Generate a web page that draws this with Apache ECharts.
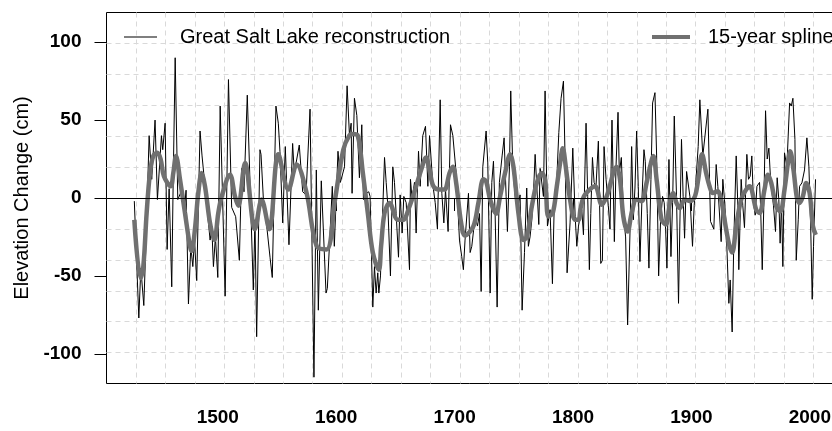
<!DOCTYPE html>
<html>
<head>
<meta charset="utf-8">
<script src="https://cdn.jsdelivr.net/npm/echarts@6/dist/echarts.min.js"></script>
<style>
html, body { margin: 0; padding: 0; background: #fff; }
#main { width: 832px; height: 431px; }
</style>
</head>
<body>
<div id="main"></div>
<script>
// annual reconstruction as [year, cm]
var reconstruction = [
  [1429.5, -2], [1433.3, -77], [1435, -45], [1437.5, -69], [1439.4, -27], [1442, 40], [1444.2, 12], [1447, 50],
  [1449, -1], [1452.4, 40], [1453.5, 31], [1455.5, 48], [1457.2, -33], [1458.9, 6], [1461.1, -57], [1462.3, 10],
  [1464, 90], [1466.2, -1], [1469, 4], [1471.5, -10], [1473.2, 5], [1475.2, -68], [1477.2, -31], [1478.9, -44],
  [1480.3, -27], [1482.2, -53], [1485, 43], [1486.7, 27], [1488.1, 16], [1493.5, -27], [1494.9, -18], [1496.3, -44],
  [1498, -25], [1500, -51], [1502, 59], [1506.2, -63], [1509, 76],
  [1511.7, -6], [1515.1, -12], [1518.2, -40], [1520.1, 19], [1522.1, 4], [1524.9, 66], [1530, -59], [1531.4, -14],
  [1532.8, -89], [1535.6, 31], [1536.5, 28], [1538.5, -1], [1541.3, -18], [1544.1, -38], [1546, -51], [1549.1, 59],
  [1551.1, 48], [1552.5, 30], [1554.8, -16], [1557, 33], [1560.1, -30], [1563.2, 35], [1564.6, 16], [1568.8, 34],
  [1571.7, 4], [1574.5, 2], [1577.9, 57], [1581.2, -115], [1583.2, 18], [1584.9, -72], [1587.4, 11], [1591.4, -61],
  [1592.5, -58], [1596.7, 7.5], [1598.4, -31], [1601.5, 30], [1603.5, 10],
  [1607, 20], [1609.2, 72], [1611.2, 40], [1612.6, 48], [1613.4, 3], [1615.4, 64], [1617.4, 53], [1619.6, 13],
  [1621.6, 47], [1623, -1], [1625.3, 3], [1627.5, 4], [1628.6, 1], [1630.9, -70], [1632.3, -44], [1633.7, -61],
  [1635.1, -48], [1636, -61], [1637.4, -50], [1640.8, 26], [1642.2, 10], [1643.6, -5], [1645.8, -50], [1647.8, 20],
  [1649.2, 10], [1650.6, -10], [1652.6, -38], [1654, 2], [1655.7, -22.5], [1657.1, 1], [1659.1, -3], [1661.9, -46],
  [1662.7, 12], [1664.1, -1], [1666.1, 10], [1667.5, -22.5], [1669.5, 30], [1670.9, 7.5], [1673.1, 40], [1675.4, 46],
  [1677.4, 7.5], [1678.8, 40], [1681.6, 8.6], [1683.6, -3], [1685.5, -20], [1687.8, 63], [1689.2, 3], [1690.9, -16],
  [1692.3, 5.4], [1694.5, -21.5], [1696.5, 47], [1698.5, 40], [1701.3, 16], [1704.1, -27],
  [1706, -37.6], [1707.4, -46], [1708.8, -27], [1711.7, 3], [1713.1, -35], [1714.5, -31], [1717.3, -12], [1719.3, -18],
  [1721, -10], [1722.4, -60], [1723.8, 20], [1726.6, 43], [1728, 22.5], [1730, -61], [1731.4, 10], [1732.8, 23.6],
  [1734.2, -10], [1735.9, -70], [1737.8, 10], [1740.1, 27], [1741.8, 38.6], [1743.5, 1], [1744.6, -21.5], [1746.3, 20],
  [1747.4, 68.7], [1749.1, 20], [1751.1, 1], [1753, -7.5], [1755.3, 2], [1757, -72], [1759, -35], [1760.9, 6.4],
  [1762.3, -31], [1763.7, -25], [1765.2, -14], [1766.6, 3], [1768, 28], [1769.4, 27], [1771.1, -17], [1772.2, 19],
  [1775, 1], [1776.4, 68.7], [1778.4, -18], [1780.6, -7.5], [1782.6, -55], [1784.3, 1], [1786.3, 12], [1788, 42],
  [1789.9, 64], [1791.9, 75], [1793.3, 25], [1795, -48], [1797.5, -16], [1799.8, 32], [1801.8, -12], [1803.2, -31],
  [1804.6, -18],
  [1806, -12], [1807.4, -7.5], [1808.8, -23.6], [1811, 48], [1812.4, 1], [1813.8, -46], [1815, -10], [1816.4, 26],
  [1817.8, 10], [1819.4, 7.5], [1821.4, 36.5], [1823.4, -42], [1824.8, -40], [1826.2, 33], [1827.9, 12], [1829.8, -5],
  [1831.2, -20], [1832.9, 50], [1834.9, -28], [1836.3, 20], [1838, 55], [1839.1, 16], [1840.8, 26], [1842.5, -10],
  [1844.4, -25], [1846.1, -81.5], [1848.1, -22.5], [1849.5, 33], [1850.9, -14], [1852.3, 6.4], [1853.7, 43], [1855.1, 7.5],
  [1856.5, -40.8], [1858.2, -1], [1859.9, 31], [1861, 23.6], [1862.7, -10], [1864.1, -45], [1865.8, 12], [1867.2, 61],
  [1868.3, 62], [1869.2, 67.6], [1870.6, 27], [1872.3, -50], [1873.9, -15], [1875.6, 1], [1877, -3], [1878.2, -20],
  [1879.3, -45], [1881, 24.7], [1882.7, -37.6], [1884.1, -3], [1885.5, 52.6], [1887.4, 1], [1889.1, -67.6], [1890.2, -18],
  [1891.6, 37.6], [1893, 1], [1894.2, -25.8], [1895.9, 17], [1897.5, 16], [1898.7, 1], [1900.9, -31], [1902.3, -5],
  [1903.7, 10], [1905.7, 33], [1907.1, 63],
  [1909.6, 27], [1913.9, 57], [1916.1, -15], [1918.9, -20], [1920.9, 21.5], [1922.3, 7.5], [1925.1, -28], [1926.5, 12],
  [1927.9, -1], [1929.3, -18], [1931.6, -67.6], [1932.7, -52.6], [1934.4, -86], [1935.8, -27], [1937.8, 27], [1939.2, -5],
  [1940, -46], [1942, 12], [1943.4, -5], [1944.8, -19], [1946.8, 28], [1948.2, 12], [1949.6, 14], [1951, 27],
  [1952.4, -3], [1953.9, -11], [1955.3, 7.5], [1957.5, 10], [1958.4, -5], [1959.8, -46], [1961.2, -3], [1962.6, 56],
  [1964, 25], [1965.4, 32], [1966.8, 12], [1969.3, -5], [1971, -21.5], [1972.4, 13], [1973.8, -1], [1974.9, -29],
  [1976.1, -3], [1977.2, -44], [1978.6, 29], [1980.6, 20], [1982.9, 61], [1984.3, 59], [1985.7, 64], [1987.4, 37.6],
  [1988.5, -40], [1990.2, -14], [1991.3, 7.5], [1993.3, 9.7], [1995.5, 18], [1997.5, 38.6], [1999.2, 20], [2000.6, -14],
  [2002, -65], [2003.1, -31], [2004.8, 12]
];

// 15-year spline
var spline15 = [
  [1429.5, -14], [1434.8, -51.5], [1437.1, -44], [1439.9, -9.7], [1442.7, 16], [1445.5, 27], [1448.9, 29], [1451.7, 25],
  [1454.5, 14], [1460.2, 7.5], [1462.4, 16], [1464.7, 27], [1468.1, 11.8], [1472.3, -9.7], [1476.5, -31], [1477.9, -34],
  [1480.7, -20], [1483.5, 3.2], [1486.4, 16], [1489.2, 7.5], [1493.4, -16], [1497.1, -27], [1500.4, -9.7], [1503.3, 1],
  [1510.3, 15], [1514.5, 1], [1517.3, -5], [1523, 22.5], [1531.4, -20], [1537, -1], [1543.5, -20], [1551.1, 28],
  [1559.6, 5.4], [1566.6, 21.5], [1575, 3.2], [1583.5, -31], [1591.9, -33], [1599, -1], [1606, 31], [1611, 40],
  [1614, 41], [1618.2, 40], [1622.5, 16], [1626.7, -9.7], [1630.9, -35], [1636, -46], [1637.9, -31], [1640.8, -9.7],
  [1645, -3.2], [1652, -14], [1656.2, -14], [1661.9, -5.4], [1667.5, 7.5], [1671.7, 18], [1675.9, 26], [1678.8, 18],
  [1682.1, 7.5], [1687.2, 5.4], [1691.4, 5.4], [1695.7, 16], [1698.5, 20], [1701.3, 9.7], [1705.5, -16], [1708.8, -24],
  [1715.9, -18], [1720.1, -3], [1724.3, 12], [1726.6, 10.7], [1730, -1], [1735, -10], [1738.4, 1], [1742.6, 16],
  [1746.9, 28], [1749.7, 20], [1753.9, -9.7], [1758.1, -27], [1761, -25], [1765.2, -5.4], [1769.4, 9.7], [1773.6, 16],
  [1776.4, 11.8], [1779.2, -11.8], [1782.9, -9.7], [1786.3, 7.5], [1789.1, 22.5], [1791.3, 32], [1794.2, 18], [1797.5, -1],
  [1801.8, -14], [1804.6, -14], [1806.5, -6], [1810, 2], [1818.6, 7.5], [1824.2, -4.3], [1828.4, 1], [1836.9, 20],
  [1839.7, 11.8], [1842.5, -12], [1846.1, -21.5], [1849.5, -9.7], [1853.7, -1], [1857.9, -2], [1862.1, 9.7], [1865, 20],
  [1867.8, 27], [1870.6, 11.8], [1874.8, -14], [1878.4, -17], [1881.8, -3.2], [1884.6, 3.2], [1887.4, -3.2], [1890.2, -6.4],
  [1894.4, -1], [1898.7, -2], [1902.9, 1], [1905.7, 11.8], [1909, 28], [1912.4, 16], [1915.3, 7.5], [1918.1, 3.2],
  [1922.3, 4.3], [1925.1, -1], [1929.3, -20], [1932.2, -31], [1934.4, -35], [1937.8, -18], [1942, -1], [1946.2, 5.4],
  [1949.1, 7.5], [1954.7, -7.5], [1957.5, -9.7], [1961.7, 5.4], [1964.6, 15], [1967.4, 9.7], [1971.6, -5.4], [1975, -8.6],
  [1978.6, 5.4], [1981.5, 22.5], [1983.4, 30], [1986.2, 18], [1989.1, 0], [1991.3, -3.2], [1994.1, 1], [1996.9, 9.7],
  [1999.8, 3.2], [2002.6, -18], [2005, -23.6]
];

var xTicks = [1500, 1600, 1700, 1800, 1900, 2000];
var yTicks = [-100, -50, 0, 50, 100];

var font = '"Liberation Sans", Arial, sans-serif';
var gridDash = { color: '#d9d9d9', width: 1, type: [5, 4] };

var myChart = echarts.init(document.getElementById('main'));
myChart.setOption({
  animation: false,
  backgroundColor: '#fff',
  textStyle: { fontFamily: font, color: '#000' },
  grid: {
    // half-pixel edges so the 1px box stays crisp
    left: 106.5, top: 12.5, right: -11, bottom: 47.5,
    show: true, borderColor: '#000', borderWidth: 1,
    outerBoundsMode: 'none'
  },
  legend: [
    {
      data: ['Great Salt Lake reconstruction'], left: 124, top: 27, padding: 0,
      icon: 'rect', itemWidth: 33, itemHeight: 1,
      textStyle: { fontSize: 20, color: '#000', padding: [0, 0, 0, 18] }
    },
    {
      data: ['15-year spline'], left: 652, top: 27, padding: 0,
      icon: 'rect', itemWidth: 38, itemHeight: 4,
      textStyle: { fontSize: 20, color: '#000', padding: [0, 0, 0, 13] }
    }
  ],
  xAxis: [
    {
      type: 'value', min: 1406, max: 2028,
      axisLine: { show: false },
      splitLine: { show: false },
      axisTick: { show: true, length: 13, customValues: xTicks, lineStyle: { color: '#000' } },
      axisLabel: {
        customValues: xTicks, fontSize: 19, fontWeight: 'bold', color: '#000', margin: 25,
        formatter: function (v) { return String(v); }
      }
    },
    {
      // grid of 25 equal cells
      type: 'value', min: 1406, max: 2028, interval: 24.88,
      axisLine: { show: false }, axisTick: { show: false }, axisLabel: { show: false },
      splitLine: { show: true, showMinLine: false, showMaxLine: false, lineStyle: gridDash }
    }
  ],
  yAxis: [
    {
      type: 'value', min: -119.04, max: 119.04,
      name: 'Elevation Change (cm)', nameLocation: 'middle', nameRotate: 90, nameGap: 73,
      nameTextStyle: { fontSize: 20, color: '#000' },
      axisLine: { show: false },
      splitLine: { show: false },
      axisTick: { show: true, length: 12, customValues: yTicks, lineStyle: { color: '#000' } },
      axisLabel: {
        customValues: yTicks, fontSize: 19, fontWeight: 'bold', color: '#000', margin: 25,
        formatter: function (v) { return String(v); }
      }
    },
    {
      // 12 equal cells
      type: 'value', min: -119.04, max: 119.04, interval: 19.84,
      axisLine: { show: false }, axisTick: { show: false }, axisLabel: { show: false },
      splitLine: { show: true, showMinLine: false, showMaxLine: false, lineStyle: gridDash }
    }
  ],
  series: [
    {
      name: 'Great Salt Lake reconstruction',
      type: 'line',
      data: reconstruction,
      showSymbol: false,
      color: '#000',
      lineStyle: { color: '#000', width: 1 },
      z: 2,
      markLine: {
        silent: true, symbol: 'none', label: { show: false },
        lineStyle: { color: '#000', width: 1, type: 'solid' },
        data: [{ yAxis: 0 }]
      }
    },
    {
      name: '15-year spline',
      type: 'line',
      data: spline15,
      showSymbol: false,
      smooth: 0.35,
      color: '#707070',
      lineStyle: { color: '#707070', width: 4.5 },
      z: 3
    }
  ]
});
</script>
</body>
</html>
